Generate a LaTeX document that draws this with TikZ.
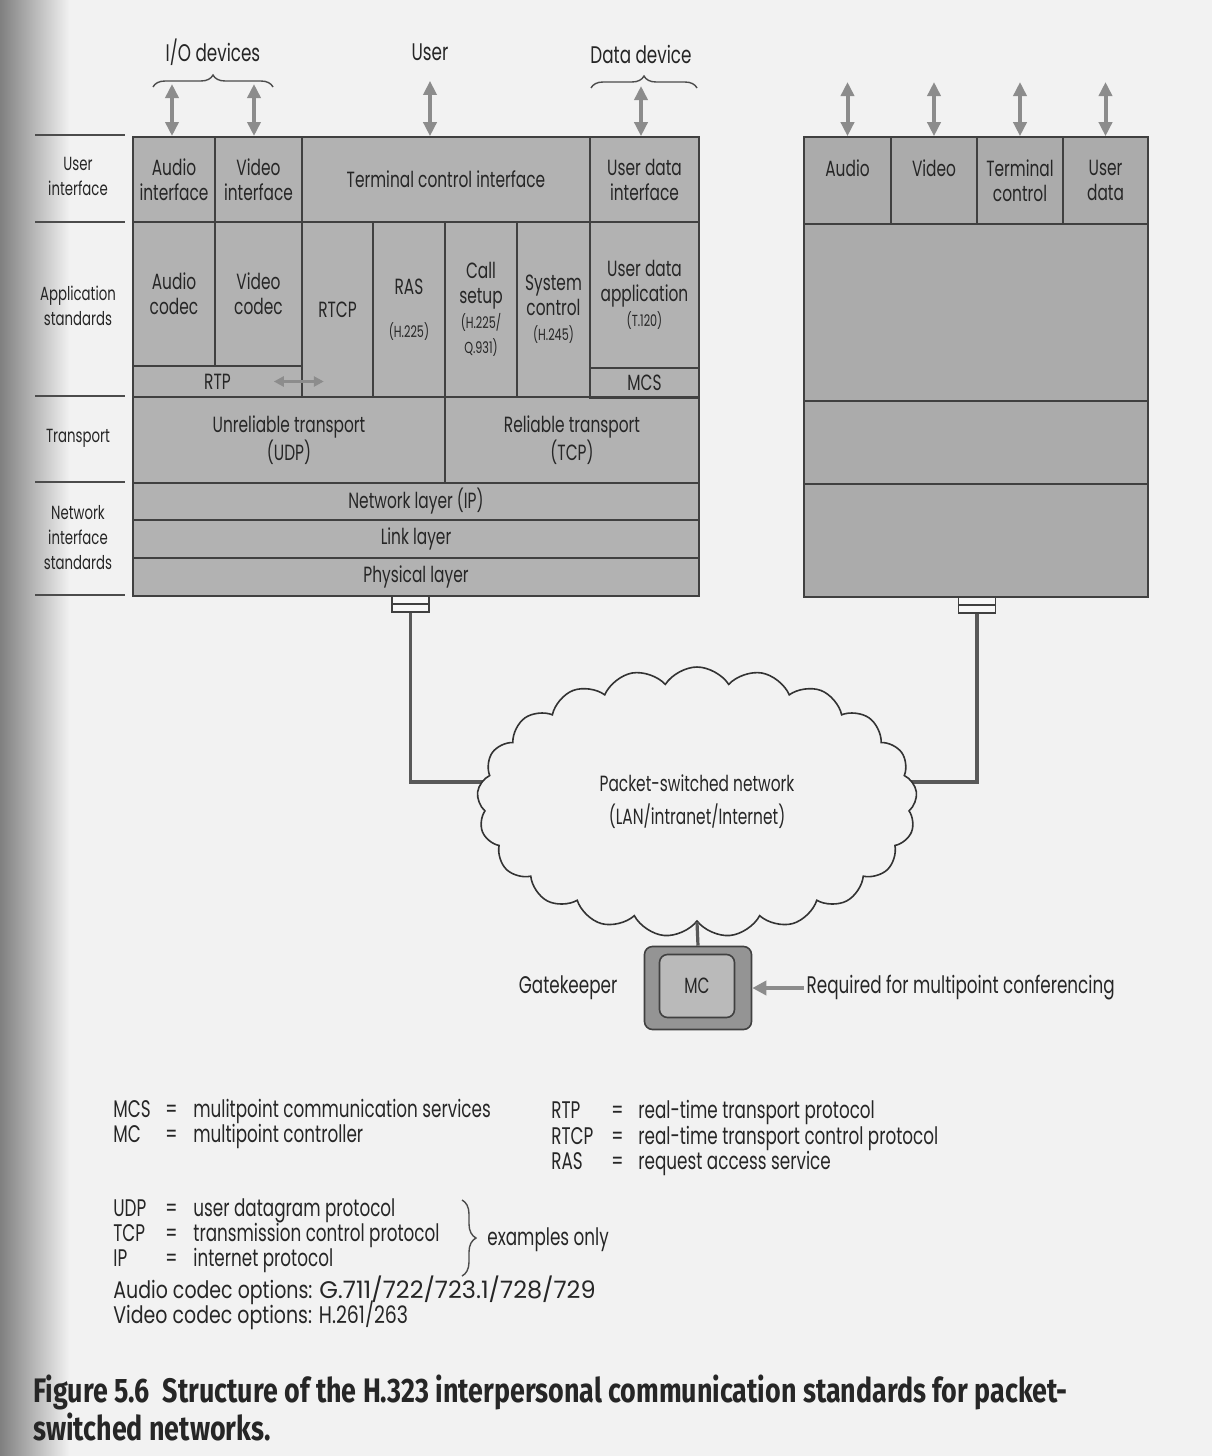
\documentclass[tikz,border=0pt]{standalone}
\usepackage{fontspec}
\setmainfont{Poppins}[FakeStretch=0.7]
\newfontfamily\legwide{Poppins}[FakeStretch=0.79]
\newfontfamily\digfont{Poppins}[FakeStretch=1.0]
\newfontfamily\capfont{Fira Sans}[FakeStretch=0.79]
\usepackage{tikz}
\usetikzlibrary{arrows.meta,positioning,shapes.symbols,decorations.pathreplacing}

\newcommand\cellfont{\fontsize{11}{12.5}\selectfont}
\newcommand\smallfont{\fontsize{8}{10}\selectfont}
\newcommand\sidefont{\fontsize{9.5}{12.5}\selectfont}
\newcommand\legfont{\fontsize{12}{14}\selectfont}
% one cell of a layer box: name, x1, y1, x2, y2, text (pixel units)
\newcommand\cell[6]{%
  \node[cellbox,minimum width={(#4-#2)*0.5pt},minimum height={(#5-#3)*0.5pt}]
    (#1) at ({(#2+#4)/2},{(#3+#5)/2}) {#6};}

\begin{document}
\begin{tikzpicture}[x=0.5pt,y=-0.5pt,
  cellbox/.style={draw=black!75,line width=0.8pt,inner sep=1pt,align=center,font=\cellfont,text=black!85},
  sepline/.style={draw=black!70,line width=1pt},
  sidelbl/.style={align=center,font=\sidefont,inner sep=1pt,text=black!85},
  toplbl/.style={font=\fontsize{12}{14}\selectfont,inner sep=1pt,text=black!85},
  dblarrow/.style={{Triangle[length=7pt,width=6.5pt]}-{Triangle[length=7pt,width=6.5pt]},draw=black!45,line width=2pt},
  smallarrow/.style={{Triangle[length=5pt,width=5pt]}-{Triangle[length=5pt,width=5pt]},draw=black!45,line width=1.4pt},
  bracestyle/.style={draw=black!70,line width=0.7pt,decorate,decoration={brace,amplitude=6pt}},
  plug/.style={draw=black!75,fill=black!3,line width=0.6pt,inner sep=0pt,minimum width=18.5pt,minimum height=4pt},
  conn/.style={draw=black!65,line width=1.6pt},
  legtext/.style={font=\legfont,inner sep=0pt,anchor=mid west,text=black!85}]

  % scanned page
  \fill[black!5] (0,0) rectangle (1212,1456);
  \shade[left color=black!50,right color=black!5] (0,0) rectangle (70,1456);
  \useasboundingbox (0,0) rectangle (1212,1456);

  % side labels
  \foreach \y in {135,222,396,482,595}
    \draw[sepline] (35,\y) -- (125,\y);
  \node[sidelbl] (siduser) at (78,176) {User\\interface};
  \node[sidelbl] (sidapp) at (78,306) {Application\\standards};
  \node[sidelbl] (sidtrans) at (78,438) {Transport};
  \node[sidelbl] (sidnet) at (78,538) {Network\\interface\\standards};

  % terminal stack
  \fill[black!30] (133,137) rectangle (699,596);
  \cell{audioif}{133}{137}{215}{222}{Audio\\interface}
  \cell{videoif}{215}{137}{302}{222}{Video\\interface}
  \cell{tci}{302}{137}{590}{222}{Terminal control interface}
  \cell{udi}{590}{137}{699}{222}{User data\\interface}
  \cell{acodec}{133}{222}{215}{366}{Audio\\codec}
  \cell{vcodec}{215}{222}{302}{366}{Video\\codec}
  \cell{rtp}{133}{366}{302}{397}{RTP}
  \cell{rtcp}{302}{222}{373}{397}{RTCP}
  \cell{ras}{373}{222}{445}{397}{RAS\\[9pt]{\smallfont(H.225)}}
  \cell{callsetup}{445}{222}{517}{397}{Call\\setup\\{\smallfont(H.225/}\\{\smallfont Q.931)}}
  \cell{sysctl}{517}{222}{590}{397}{System\\control\\{\smallfont(H.245)}}
  \cell{udapp}{590}{222}{699}{368}{User data\\application\\{\smallfont(T.120)}}
  \cell{mcs}{590}{368}{699}{398}{MCS}
  \cell{udp}{133}{397}{445}{483}{Unreliable transport\\(UDP)}
  \cell{tcp}{445}{397}{699}{483}{Reliable transport\\(TCP)}
  \cell{ip}{133}{483}{699}{520}{Network layer (IP)}
  \cell{link}{133}{520}{699}{558}{Link layer}
  \cell{phys}{133}{558}{699}{596}{Physical layer}
  \draw[smallarrow] ([xshift=-14.5pt]rtp.east) -- ([xshift=10.5pt]rtp.east);

  % second terminal
  \fill[black!33] (804,137) rectangle (1148,597);
  \cell{raudio}{804}{137}{891}{224}{Audio\\\phantom{x}}
  \cell{rvideo}{891}{137}{977}{224}{Video\\\phantom{x}}
  \cell{rterm}{977}{137}{1063}{224}{Terminal\\control}
  \cell{rdata}{1063}{137}{1148}{224}{User\\data}
  \cell{rapp}{804}{224}{1148}{401}{}
  \cell{rtrans}{804}{401}{1148}{484}{}
  \cell{rnet}{804}{484}{1148}{597}{}

  % devices on top
  \node[toplbl] (iodev) at (213,52) {I/O devices};
  \node[toplbl] (user) at (430,52) {User};
  \node[toplbl] (datadev) at (641,54) {Data device};
  \draw[bracestyle] (153,87) -- (273,87);
  \draw[bracestyle] (591,88) -- (697,88);
  \draw[dblarrow] (172,84) -- (172,136);
  \draw[dblarrow] (254,84) -- (254,136);
  \draw[dblarrow] ([yshift=-9pt]user.south) -- (user.south |- tci.north);
  \draw[dblarrow] (datadev.south |- 0,86) -- (datadev.south |- udi.north);
  \foreach \c in {raudio,rvideo,rterm,rdata}
    \draw[dblarrow] (\c.north |- 0,82) -- (\c.north);

  % network attachment
  \node[plug] (plugL1) at (410.5,600) {};
  \node[plug] (plugL2) at (410.5,608) {};
  \node[plug] (plugR1) at (977,601) {};
  \node[plug] (plugR2) at (977,609) {};
  \coordinate (netL) at (540,782);
  \coordinate (netR) at (860,782);
  \draw[conn] (plugL2.south) |- (netL);
  \draw[conn] (plugR2.south) |- (netR);
  \node[cloud,draw=black!80,line width=0.8pt,fill=black!5,cloud puffs=21,cloud puff arc=115,
    aspect=1.65,minimum width=220pt,minimum height=135pt,inner sep=0pt,align=center,
    font=\cellfont,text=black!85] (net) at (697,802) {Packet-switched network\\[4pt](LAN/intranet/Internet)};

  % gatekeeper
  \node[draw=black!75,line width=0.8pt,fill=black!42,rounded corners=4pt,
    minimum width=53.5pt,minimum height=41.5pt] (gk) at (698,988) {};
  \node[draw=black!75,line width=0.8pt,fill=black!27,rounded corners=4pt,
    minimum width=37.5pt,minimum height=31.5pt,font=\cellfont,text=black!85] (mc) at (697,986) {MC};
  \draw[conn] (net.south) -- (gk.north);
  \node[toplbl,left=12pt of gk] (gklbl) {Gatekeeper};
  \node[toplbl,right=26pt of gk] (req) {Required for multipoint conferencing};
  \draw[{Triangle[length=7pt,width=7pt]}-,draw=black!45,line width=2.2pt] (gk.east) -- (req.west);

  % legend
  \foreach \ab/\de/\y in {MCS/mulitpoint communication services/1112,
      MC/multipoint controller/1137,UDP/user datagram protocol/1211,
      TCP/transmission control protocol/1236,IP/internet protocol/1261} {
    \node[legtext] (ab\ab) at (113,\y) {\ab};
    \node[legtext] (eq\ab) at (165,\y) {=};
    \node[legtext] (de\ab) at (193,\y) {\de};
  }
  \foreach \ab/\de/\y in {RTP/real-time transport protocol/1113,
      RTCP/real-time transport control protocol/1139,RAS/request access service/1164} {
    \node[legtext] (ab\ab) at (551,\y) {\ab};
    \node[legtext] (eq\ab) at (611,\y) {=};
    \node[legtext] (de\ab) at (638,\y) {\de};
  }
  \draw[bracestyle,decoration={brace,amplitude=7pt}] (462,1200) -- (462,1276);
  \node[legtext] (exonly) at (487,1240) {examples only};
  \node[legtext] (acopt) at (113,1293) {\legwide Audio codec options: \digfont G.711/722/723.1/728/729};
  \node[legtext] (vcopt) at (113,1318) {\legwide Video codec options: H.261/263};

  % caption
  \node[anchor=north west,align=left,inner sep=0pt,text=black!85,
    font=\capfont\bfseries\fontsize{17}{15.5}\selectfont] (cap) at (33,1375)
    {Figure 5.6\ \ Structure of the H.323 interpersonal communication standards for packet-\\switched networks.};
\end{tikzpicture}
\end{document}
